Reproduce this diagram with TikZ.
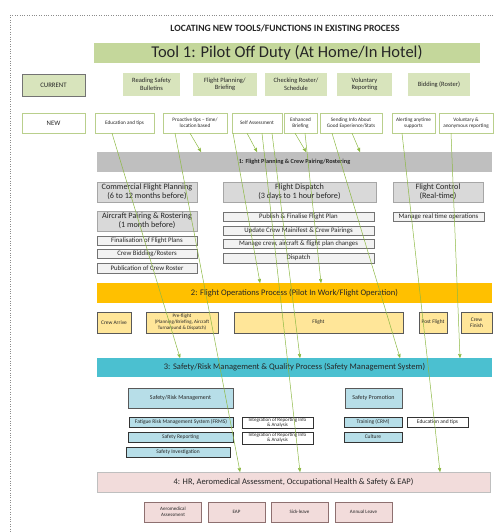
\documentclass[tikz,border=0pt]{standalone}
\usepackage{fontspec}
\setmainfont{Carlito}
\usepackage{xcolor}
\usepackage{tikz}
\usetikzlibrary{shapes,arrows}

\definecolor{toolgreen}{HTML}{C4D79B}
\definecolor{curgreen}{HTML}{D8E4BC}
\definecolor{newline}{HTML}{B9CF8C}
\definecolor{arrowgreen}{HTML}{8DB944}
\definecolor{planbar}{HTML}{BFBFBF}
\definecolor{planbox}{HTML}{D9D9D9}
\definecolor{plansub}{HTML}{F2F2F2}
\definecolor{opsbar}{HTML}{FFC000}
\definecolor{opsbox}{HTML}{FFE699}
\definecolor{smsbar}{HTML}{4BC0D0}
\definecolor{smsbox}{HTML}{B7DEE8}
\definecolor{hrbar}{HTML}{F2DCDB}
\definecolor{hrline}{HTML}{8E7070}

\newcommand{\txtsize}[2]{\fontsize{#1}{#2}\selectfont}

\begin{document}
\begin{tikzpicture}[x=1pt, y=-1pt, ->, >=stealth', thin]
	\useasboundingbox (0,0) rectangle (493,532);
	\tikzstyle{every node}=[inner sep=0pt, align=center, text=black!85]
	\tikzstyle{toolbar}=[fill=toolgreen, minimum width=386pt, minimum height=20pt, font=\txtsize{16.5}{18}]
	\tikzstyle{rowhead}=[draw=black!55, fill=curgreen, minimum width=63pt, font=\txtsize{6.8}{7.5}]
	\tikzstyle{current}=[fill=curgreen, minimum height=23pt, font=\txtsize{6.5}{7.5}]
	\tikzstyle{newtool}=[draw=newline, fill=white, minimum height=20pt, font=\txtsize{5.2}{6.2}]
	\tikzstyle{procbar}=[minimum width=395pt, minimum height=20pt, font=\txtsize{8.5}{9}]
	\tikzstyle{planhead}=[draw=black!35, fill=planbox, minimum height=20pt, font=\txtsize{8.2}{9.2}]
	\tikzstyle{plantask}=[draw=black!55, fill=plansub, font=\txtsize{6.8}{7}]
	\tikzstyle{opstask}=[draw=black!65, fill=opsbox, minimum height=21pt, font=\txtsize{5.4}{6.3}]
	\tikzstyle{smshead}=[draw=black!65, fill=smsbox, minimum height=20pt, font=\txtsize{6}{6.5}]
	\tikzstyle{smstask}=[draw=black!80, fill=smsbox, minimum height=10pt, font=\txtsize{5.5}{5.6}]
	\tikzstyle{hrtask}=[draw=hrline, fill=hrbar, minimum width=57pt, minimum height=20pt, font=\txtsize{5}{5.6}]
	\tikzstyle{newarrow}=[draw=arrowgreen, line width=0.5pt, ->]

	% frame
	\draw[-, dotted, black!45] (10,15) -- (493,15);
	\draw[-, dotted, black!45] (10,15) -- (10,532);

	\node[font=\bfseries\txtsize{9.6}{10}] (title) at (285,28) {LOCATING NEW TOOLS/FUNCTIONS IN EXISTING PROCESS};
	\node[toolbar] (tool) at (287,53) {Tool 1: Pilot Off Duty (At Home/In Hotel)};

	% current row
	\node[rowhead, minimum height=22pt] (current) at (53.5,85) {CURRENT};
	\node[current, minimum width=57pt] (bulletins) at (151.5,84.5) {Reading Safety\\Bulletins};
	\node[current, minimum width=64pt] (briefing) at (225,84.5) {Flight Planning/\\Briefing};
	\node[current, minimum width=62pt] (roster) at (296,84.5) {Checking Roster/\\Schedule};
	\node[current, minimum width=55pt] (voluntary) at (364.5,84.5) {Voluntary\\Reporting};
	\node[current, minimum width=62pt] (bidding) at (439,84.5) {Bidding (Roster)};

	% new row
	\node[rowhead, draw=newline, fill=white, minimum height=20pt] (new) at (53.5,123) {NEW};
	\node[newtool, minimum width=59pt] (edutips) at (124.5,123) {Education and tips};
	\node[newtool, minimum width=64pt] (proactive) at (195,123) {Proactive tips -- time/\\location based};
	\node[newtool, minimum width=50pt] (selfassess) at (257,123) {Self Assessment};
	\node[newtool, minimum width=33pt] (enhanced) at (300.5,123) {Enhanced\\Briefing};
	\node[newtool, minimum width=62pt] (sending) at (351,123) {Sending Info About\\Good Experience/Stats};
	\node[newtool, minimum width=43pt] (alerting) at (413.5,123) {Alerting anytime\\supports};
	\node[newtool, minimum width=54pt] (anonymous) at (466,123) {Voluntary \&\\anonymous reporting};

	% 1: planning
	\node[procbar, fill=planbar, font=\bfseries\txtsize{6.2}{6.5}] (planning) at (294.5,162) {1: Flight Planning \& Crew Pairing/Rostering};
	\node[planhead, minimum width=100pt] (commercial) at (147,192) {Commercial Flight Planning\\(6 to 12 months before)};
	\node[planhead, minimum width=100pt] (pairing) at (147,221) {Aircraft Pairing \& Rostering\\(1 month before)};
	\node[plantask, minimum width=100pt, minimum height=9pt] (finalisation) at (147,240.5) {Finalisation of Flight Plans};
	\node[plantask, minimum width=100pt, minimum height=9pt] (crewbidding) at (147,253.5) {Crew Bidding/Rosters};
	\node[plantask, minimum width=100pt, minimum height=10pt] (publication) at (147,268) {Publication of Crew Roster};
	\node[planhead, minimum width=153pt] (dispatch) at (299.5,192) {Flight Dispatch\\(3 days to 1 hour before)};
	\node[plantask, minimum width=151pt, minimum height=9pt] (publish) at (298.5,216.5) {Publish \& Finalise Flight Plan};
	\node[plantask, minimum width=151pt, minimum height=9pt] (manifest) at (298.5,230.5) {Update Crew Mainifest \& Crew Pairings};
	\node[plantask, minimum width=151pt, minimum height=9pt] (changes) at (298.5,243.5) {Manage crew, aircraft \& flight plan changes};
	\node[plantask, minimum width=151pt, minimum height=10pt] (dispatchtask) at (298.5,258) {Dispatch};
	\node[planhead, minimum width=90pt] (control) at (438,192) {Flight Control\\(Real-time)};
	\node[plantask, minimum width=91pt, minimum height=9pt] (realtime) at (438.5,216.5) {Manage real time operations};

	% 2: operations
	\node[procbar, fill=opsbar] (operations) at (294.5,293) {2: Flight Operations Process (Pilot In Work/Flight Operation)};
	\node[opstask, minimum width=34pt] (arrive) at (114,322.5) {Crew Arrive};
	\node[opstask, minimum width=72pt, font=\txtsize{5}{6}] (preflight) at (182,322.5) {Pre-flight\\(Planning/Briefing, Aircraft\\Turnaround \& Dispatch)};
	\node[opstask, minimum width=169pt] (flight) at (318.5,322.5) {Flight};
	\node[opstask, minimum width=28pt] (postflight) at (433,322.5) {Post Flight};
	\node[opstask, minimum width=31pt] (finish) at (476.5,322.5) {Crew\\Finish};

	% 3: safety
	\node[procbar, fill=smsbar, minimum height=19pt] (safety) at (294.5,367.5) {3: Safety/Risk Management \& Quality Process (Safety Management System)};
	\node[smshead, minimum width=105pt] (riskmgmt) at (180.5,398) {Safety/Risk Management};
	\node[smshead, minimum width=57pt] (promotion) at (373.5,398) {Safety Promotion};
	\node[smstask, minimum width=104pt] (frms) at (181,422) {Fatigue Risk Management System (FRMS)};
	\node[smstask, fill=white, minimum width=71pt, minimum height=11pt, font=\txtsize{5}{5.3}] (integration) at (277.5,422.5) {Integration of Reporting Info\\\& Analysis};
	\node[smstask, fill=white, minimum width=71pt, minimum height=12pt, font=\txtsize{5}{5.3}] (integrationb) at (277.5,438) {Integration of Reporting Info\\\& Analysis};
	\node[smstask, minimum width=105pt] (reporting) at (180.5,437) {Safety Reporting};
	\node[smstask, minimum width=104pt] (investigation) at (178,452) {Safety Investigation};
	\node[smstask, minimum width=58pt] (training) at (373,422) {Training (CRM)};
	\node[smstask, fill=white, minimum width=61pt] (edutipsb) at (437.5,422) {Education and tips};
	\node[smstask, minimum width=58pt] (culture) at (373,437) {Culture};

	% 4: hr
	\node[procbar, fill=hrbar, draw=black!25, minimum width=393pt] (hr) at (293.5,482) {4: HR, Aeromedical Assessment, Occupational Health \& Safety \& EAP)};
	\node[hrtask] (aeromed) at (173,512) {Aeromedical\\Assessment};
	\node[hrtask] (eap) at (236.5,512) {EAP};
	\node[hrtask] (sickleave) at (299.5,512) {Sick-leave};
	\node[hrtask] (annual) at (363.5,512) {Annual Leave};

	% new tools into the process
	\draw[newarrow] ([xshift=-12.5pt]edutips.south) -- ([xshift=-114.5pt]safety.north);
	\draw[newarrow] ([xshift=-20pt]proactive.south) -- ([xshift=-53.5pt]hr.north);
	\draw[newarrow] ([xshift=-5pt]proactive.south) -- ([xshift=-93.5pt]planning.north);
	\draw[newarrow] ([xshift=-24pt]selfassess.south) -- ([xshift=-34.5pt]operations.north);
	\draw[newarrow] ([xshift=-10pt]selfassess.south) -- ([xshift=-37.5pt]planning.north);
	\draw[newarrow] ([xshift=5pt]selfassess.south) -- ([xshift=6.5pt]hr.north);
	\draw[newarrow] ([xshift=15pt]selfassess.south) -- ([xshift=5.5pt]safety.north);
	\draw[newarrow] ([xshift=-5.5pt]enhanced.south) -- ([xshift=11.5pt]planning.north);
	\draw[newarrow] ([xshift=4.5pt]enhanced.south) -- ([xshift=26.5pt]operations.north);
	\draw[newarrow] ([xshift=1pt]sending.south) -- ([xshift=65.5pt]planning.north);
	\draw[newarrow] ([xshift=-19pt]sending.south) -- ([xshift=105.5pt]safety.north);
	\draw[newarrow] ([xshift=-11.5pt]alerting.south) -- ([xshift=146.5pt]hr.north);
	\draw[newarrow] ([xshift=-15pt]anonymous.south) -- ([xshift=165.5pt]safety.north);
\end{tikzpicture}
\end{document}
